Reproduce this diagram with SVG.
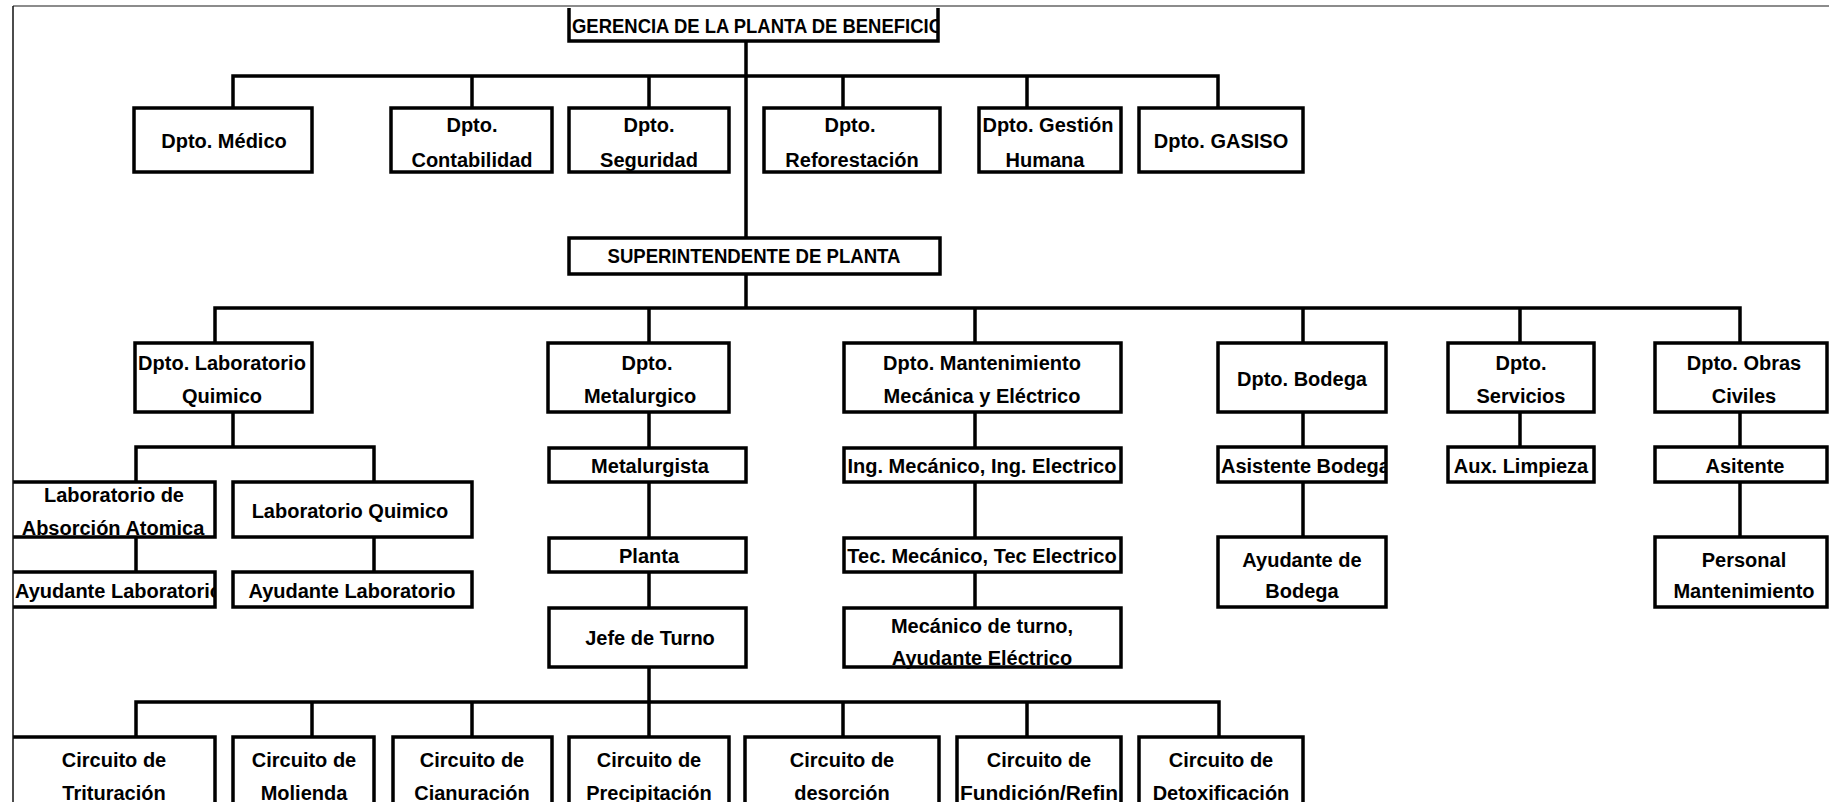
<svg xmlns="http://www.w3.org/2000/svg" width="1829" height="802" viewBox="0 0 1829 802">
  <defs>
    <style>
      .box { fill: #fff; stroke: #000; stroke-width: 3.5; }
      .ln { fill: none; stroke: #000; stroke-width: 3.5; stroke-linejoin: miter; }
      .t { font-family: "Liberation Sans", Arial, sans-serif; font-weight: bold; font-size: 20px; fill: #000; }
      .c { text-anchor: middle; }
    </style>
    <clipPath id="sheet"><rect x="13" y="7" width="1816" height="795"/></clipPath>
    <clipPath id="clipGer"><rect x="569" y="8" width="369" height="33"/></clipPath>
    <clipPath id="clipAyu"><rect x="13" y="572" width="202" height="35"/></clipPath>
    <clipPath id="clipAsi"><rect x="1218" y="447" width="168" height="35"/></clipPath>
  </defs>
  <rect width="1829" height="802" fill="#fff"/>

  <g clip-path="url(#sheet)">
    <!-- connectors -->
    <g id="connectors" class="ln">
      <path d="M746 41 V238 M746 274 V308"/>
      <path d="M233 108 V76 H1218 V108 M472 76 V108 M649 76 V108 M843 76 V108 M1027 76 V108"/>
      <path d="M215 343 V308 H1740 V343 M649 308 V343 M975 308 V343 M1303 308 V343 M1520 308 V343"/>
      <path d="M233 412 V447 M136 482 V447 H374 V482 M136 537 V572 M374 537 V572"/>
      <path d="M649 412 V448 M649 482 V538 M649 572 V608 M649 667 V737"/>
      <path d="M136 737 V702 H1219 V737 M312 702 V737 M472 702 V737 M843 702 V737 M1027 702 V737"/>
      <path d="M975 412 V448 M975 482 V538 M975 572 V608"/>
      <path d="M1303 412 V447 M1303 482 V537"/>
      <path d="M1520 412 V447"/>
      <path d="M1740 412 V447 M1740 482 V537"/>
    </g>

    <!-- top management -->
    <g id="gerencia">
      <rect x="569" y="8" width="369" height="33" fill="#fff"/>
      <path class="ln" d="M569 8 V41 H938 V8"/>
      <text class="t" x="572" y="33" textLength="371" lengthAdjust="spacingAndGlyphs" clip-path="url(#clipGer)">GERENCIA DE LA PLANTA DE BENEFICIO</text>
    </g>

    <!-- staff departments -->
    <g id="dpto-medico">
      <rect class="box" x="134" y="108" width="178" height="64"/>
      <text class="t c" x="224" y="148">Dpto. Médico</text>
    </g>
    <g id="dpto-contabilidad">
      <rect class="box" x="391" y="108" width="161" height="64"/>
      <text class="t c" x="472" y="132">Dpto.</text>
      <text class="t c" x="472" y="167">Contabilidad</text>
    </g>
    <g id="dpto-seguridad">
      <rect class="box" x="569" y="108" width="160" height="64"/>
      <text class="t c" x="649" y="132">Dpto.</text>
      <text class="t c" x="649" y="167">Seguridad</text>
    </g>
    <g id="dpto-reforestacion">
      <rect class="box" x="764" y="108" width="176" height="64"/>
      <text class="t c" x="850" y="132">Dpto.</text>
      <text class="t c" x="852" y="167">Reforestación</text>
    </g>
    <g id="dpto-gestion-humana">
      <rect class="box" x="979" y="108" width="142" height="64"/>
      <text class="t c" x="1048" y="132">Dpto. Gestión</text>
      <text class="t c" x="1045" y="167">Humana</text>
    </g>
    <g id="dpto-gasiso">
      <rect class="box" x="1139" y="108" width="164" height="64"/>
      <text class="t c" x="1221" y="148">Dpto. GASISO</text>
    </g>

    <g id="superintendente">
      <rect class="box" x="569" y="238" width="371" height="36"/>
      <text class="t c" x="754" y="263" textLength="293" lengthAdjust="spacingAndGlyphs">SUPERINTENDENTE DE PLANTA</text>
    </g>

    <!-- operating departments -->
    <g id="dpto-laboratorio">
      <rect class="box" x="135" y="343" width="177" height="69"/>
      <text class="t c" x="222" y="370">Dpto. Laboratorio</text>
      <text class="t c" x="222" y="403">Quimico</text>
    </g>
    <g id="dpto-metalurgico">
      <rect class="box" x="548" y="343" width="181" height="69"/>
      <text class="t c" x="647" y="370">Dpto.</text>
      <text class="t c" x="640" y="403">Metalurgico</text>
    </g>
    <g id="dpto-mantenimiento">
      <rect class="box" x="844" y="343" width="277" height="69"/>
      <text class="t c" x="982" y="370">Dpto. Mantenimiento</text>
      <text class="t c" x="982" y="403">Mecánica y Eléctrico</text>
    </g>
    <g id="dpto-bodega">
      <rect class="box" x="1218" y="343" width="168" height="69"/>
      <text class="t c" x="1302" y="386">Dpto. Bodega</text>
    </g>
    <g id="dpto-servicios">
      <rect class="box" x="1448" y="343" width="146" height="69"/>
      <text class="t c" x="1521" y="370">Dpto.</text>
      <text class="t c" x="1521" y="403">Servicios</text>
    </g>
    <g id="dpto-obras-civiles">
      <rect class="box" x="1655" y="343" width="172" height="69"/>
      <text class="t c" x="1744" y="370">Dpto. Obras</text>
      <text class="t c" x="1744" y="403">Civiles</text>
    </g>

    <!-- laboratory -->
    <g id="lab-absorcion">
      <rect class="box" x="5" y="482" width="210" height="55"/>
      <text class="t c" x="114" y="502">Laboratorio de</text>
      <text class="t c" x="113" y="535">Absorción Atomica</text>
    </g>
    <g id="lab-quimico">
      <rect class="box" x="233" y="482" width="239" height="55"/>
      <text class="t c" x="350" y="518">Laboratorio Quimico</text>
    </g>
    <g id="ayudante-lab-1">
      <rect class="box" x="5" y="572" width="210" height="35"/>
      <text class="t" x="15" y="598" clip-path="url(#clipAyu)">Ayudante Laboratorio</text>
    </g>
    <g id="ayudante-lab-2">
      <rect class="box" x="233" y="572" width="239" height="35"/>
      <text class="t c" x="352" y="598">Ayudante Laboratorio</text>
    </g>

    <!-- metallurgy -->
    <g id="metalurgista">
      <rect class="box" x="549" y="448" width="197" height="34"/>
      <text class="t c" x="650" y="473">Metalurgista</text>
    </g>
    <g id="planta">
      <rect class="box" x="549" y="538" width="197" height="34"/>
      <text class="t c" x="649" y="563">Planta</text>
    </g>
    <g id="jefe-turno">
      <rect class="box" x="549" y="608" width="197" height="59"/>
      <text class="t c" x="650" y="645">Jefe de Turno</text>
    </g>

    <!-- maintenance -->
    <g id="ingenieros">
      <rect class="box" x="844" y="448" width="277" height="34"/>
      <text class="t c" x="982" y="473">Ing. Mecánico, Ing. Electrico</text>
    </g>
    <g id="tecnicos">
      <rect class="box" x="844" y="538" width="277" height="34"/>
      <text class="t c" x="982" y="563">Tec. Mecánico, Tec Electrico</text>
    </g>
    <g id="mecanico-turno">
      <rect fill="#fff" x="844" y="608" width="277" height="59"/>
      <text class="t c" x="982" y="633">Mecánico de turno,</text>
      <text class="t c" x="982" y="665">Ayudante Eléctrico</text>
      <rect class="box" fill="none" x="844" y="608" width="277" height="59" style="fill:none"/>
    </g>

    <!-- warehouse, services, civil works -->
    <g id="asistente-bodega">
      <rect class="box" x="1218" y="447" width="168" height="35"/>
      <text class="t" x="1221" y="473" clip-path="url(#clipAsi)">Asistente Bodega</text>
    </g>
    <g id="ayudante-bodega">
      <rect class="box" x="1218" y="537" width="168" height="70"/>
      <text class="t c" x="1302" y="567">Ayudante de</text>
      <text class="t c" x="1302" y="598">Bodega</text>
    </g>
    <g id="aux-limpieza">
      <rect class="box" x="1448" y="447" width="146" height="35"/>
      <text class="t c" x="1521" y="473">Aux. Limpieza</text>
    </g>
    <g id="asitente">
      <rect class="box" x="1655" y="447" width="172" height="35"/>
      <text class="t c" x="1745" y="473">Asitente</text>
    </g>
    <g id="personal-mantenimiento">
      <rect class="box" x="1655" y="537" width="172" height="70"/>
      <text class="t c" x="1744" y="567">Personal</text>
      <text class="t c" x="1744" y="598">Mantenimiento</text>
    </g>

    <!-- process circuits -->
    <g id="circuito-trituracion">
      <rect class="box" x="5" y="737" width="210" height="80"/>
      <text class="t c" x="114" y="767">Circuito de</text>
      <text class="t c" x="114" y="800">Trituración</text>
    </g>
    <g id="circuito-molienda">
      <rect class="box" x="233" y="737" width="141" height="80"/>
      <text class="t c" x="304" y="767">Circuito de</text>
      <text class="t c" x="304" y="800">Molienda</text>
    </g>
    <g id="circuito-cianuracion">
      <rect class="box" x="393" y="737" width="159" height="80"/>
      <text class="t c" x="472" y="767">Circuito de</text>
      <text class="t c" x="472" y="800">Cianuración</text>
    </g>
    <g id="circuito-precipitacion">
      <rect class="box" x="569" y="737" width="160" height="80"/>
      <text class="t c" x="649" y="767">Circuito de</text>
      <text class="t c" x="649" y="800">Precipitación</text>
    </g>
    <g id="circuito-desorcion">
      <rect class="box" x="745" y="737" width="194" height="80"/>
      <text class="t c" x="842" y="767">Circuito de</text>
      <text class="t c" x="842" y="800">desorción</text>
    </g>
    <g id="circuito-fundicion">
      <rect class="box" x="957" y="737" width="164" height="80"/>
      <text class="t c" x="1039" y="767">Circuito de</text>
      <text class="t c" x="1039" y="800" textLength="158" lengthAdjust="spacingAndGlyphs">Fundición/Refin</text>
    </g>
    <g id="circuito-detoxificacion">
      <rect class="box" x="1139" y="737" width="164" height="80"/>
      <text class="t c" x="1221" y="767">Circuito de</text>
      <text class="t c" x="1221" y="800">Detoxificación</text>
    </g>
  </g>

  <!-- sheet frame -->
  <g id="frame" fill="none">
    <path d="M13 6 H1829" stroke="#666" stroke-width="1.5"/>
    <path d="M13 6 V802" stroke="#111" stroke-width="1.5"/>
  </g>
</svg>
